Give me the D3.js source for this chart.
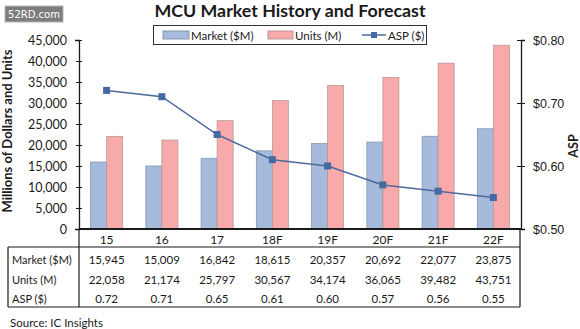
<!DOCTYPE html>
<html>
<head>
<meta charset="utf-8">
<script src="https://cdn.jsdelivr.net/npm/d3@7"></script>
<style>
  html, body { margin: 0; padding: 0; background: #fff; }
  svg { display: block; font-family: Lato, "Open Sans", sans-serif; }
</style>
</head>
<body>
<svg id="chart" width="580" height="329"></svg>
<script>
// MCU market history and forecast
const categories = ["15", "16", "17", "18F", "19F", "20F", "21F", "22F"];
const marketValues = [15945, 15009, 16842, 18615, 20357, 20692, 22077, 23875];
const unitValues = [22058, 21174, 25797, 30567, 34174, 36065, 39482, 43751];
const aspValues = [0.72, 0.71, 0.65, 0.61, 0.60, 0.57, 0.56, 0.55];
const leftTicks = [0, 5000, 10000, 15000, 20000, 25000, 30000, 35000, 40000, 45000];
const rightTicks = [0.50, 0.60, 0.70, 0.80];
const barSeries = ["Market ($M)", "Units (M)"];
const tableRows = ["Market ($M)", "Units (M)", "ASP ($)"];

const colors = {
  market: "#a6badb", marketStroke: "#8797b3",
  units: "#f8a9a9", unitsStroke: "#b89898",
  asp: "#4d6a9c", aspMarker: "#4569a3",
  axis: "#1a1a1a", text: "#1a1a1a"
};

const svg = d3.select("#chart");
const plot = { left: 79, right: 521, top: 40, bottom: 229 };

const x = d3.scaleBand().domain(categories)
  .range([plot.left, plot.right]).paddingInner(0.42).paddingOuter(0.21);
const xSub = d3.scaleBand().domain(barSeries).range([0, x.bandwidth()]);
const yLeft = d3.scaleLinear().domain([0, 45000]).range([plot.bottom, plot.top]);
const yRight = d3.scaleLinear().domain([0.5, 0.8]).range([plot.bottom, plot.top]);

// watermark badge
svg.append("rect").attr("x", 5).attr("y", 6).attr("width", 58).attr("height", 16)
  .attr("fill", "#7d7d7d").attr("stroke", "#b5b5b5");
svg.append("text").attr("x", 34).attr("y", 18).attr("text-anchor", "middle")
  .attr("font-family", "'DejaVu Sans', sans-serif").attr("font-size", 10)
  .attr("fill", "#fff").text("52RD.com");

// title
svg.append("text").attr("x", 290).attr("y", 17).attr("text-anchor", "middle")
  .attr("font-weight", "bold").attr("font-size", 17.8).attr("fill", colors.text)
  .text("MCU Market History and Forecast");

// legend
const lg = svg.append("g");
lg.append("rect").attr("x", 153.5).attr("y", 25.5).attr("width", 273).attr("height", 19)
  .attr("fill", "#fff").attr("stroke", "#333").attr("stroke-width", 1);
lg.append("rect").attr("x", 163).attr("y", 31).attr("width", 26).attr("height", 8)
  .attr("fill", colors.market).attr("stroke", colors.marketStroke);
lg.append("text").attr("x", 191).attr("y", 39.5).attr("font-size", 11.5).attr("fill", colors.text).text(barSeries[0]);
lg.append("rect").attr("x", 268).attr("y", 31).attr("width", 25).attr("height", 8)
  .attr("fill", colors.units).attr("stroke", colors.unitsStroke);
lg.append("text").attr("x", 295).attr("y", 39.5).attr("font-size", 11.5).attr("fill", colors.text).text(barSeries[1]);
lg.append("line").attr("x1", 362).attr("x2", 386).attr("y1", 35).attr("y2", 35)
  .attr("stroke", colors.asp).attr("stroke-width", 1.5);
lg.append("rect").attr("x", 371).attr("y", 32).attr("width", 6).attr("height", 6).attr("fill", colors.aspMarker);
lg.append("text").attr("x", 388).attr("y", 39.5).attr("font-size", 11.5).attr("fill", colors.text)
  .text("ASP ($)");

// bars
const groups = svg.append("g").selectAll("g").data(categories).join("g")
  .attr("transform", d => `translate(${x(d)},0)`);
groups.append("rect")
  .attr("x", xSub(barSeries[0])).attr("width", xSub.bandwidth())
  .attr("y", (d, i) => yLeft(marketValues[i]))
  .attr("height", (d, i) => plot.bottom - yLeft(marketValues[i]))
  .attr("fill", colors.market).attr("stroke", colors.marketStroke).attr("stroke-width", 0.8);
groups.append("rect")
  .attr("x", xSub(barSeries[1])).attr("width", xSub.bandwidth())
  .attr("y", (d, i) => yLeft(unitValues[i]))
  .attr("height", (d, i) => plot.bottom - yLeft(unitValues[i]))
  .attr("fill", colors.units).attr("stroke", colors.unitsStroke).attr("stroke-width", 0.8);

// ASP line
const cx = d => x(d) + x.bandwidth() / 2;
const line = d3.line().x((d, i) => cx(categories[i])).y(d => yRight(d));
svg.append("path").datum(aspValues).attr("d", line)
  .attr("fill", "none").attr("stroke", colors.asp).attr("stroke-width", 1.5);
svg.append("g").selectAll("rect").data(aspValues).join("rect")
  .attr("x", (d, i) => cx(categories[i]) - 3.5).attr("y", d => yRight(d) - 3.5)
  .attr("width", 7).attr("height", 7).attr("fill", colors.aspMarker);

// left axis
const leftAxis = svg.append("g").attr("transform", `translate(${plot.left},0)`)
  .call(d3.axisLeft(yLeft).tickValues(leftTicks).tickFormat(d3.format(",")).tickSize(4).tickPadding(8));
leftAxis.select(".domain").attr("stroke", colors.axis).attr("stroke-width", 1.3);
leftAxis.selectAll(".tick line").attr("x2", 3).attr("x1", -3).attr("stroke", colors.axis);
leftAxis.selectAll(".tick text").attr("font-size", 12.5).attr("fill", colors.text)
  .attr("font-family", "Lato, sans-serif");

// right axis
const rightAxis = svg.append("g").attr("transform", `translate(${plot.right},0)`)
  .call(d3.axisRight(yRight).tickValues(rightTicks).tickFormat(d3.format("$.2f")).tickSize(4).tickPadding(8));
rightAxis.select(".domain").attr("stroke", colors.axis).attr("stroke-width", 1.3);
rightAxis.selectAll(".tick line").attr("x1", -4).attr("x2", 4).attr("stroke", colors.axis);
rightAxis.selectAll(".tick text").attr("font-size", 12.5).attr("fill", colors.text);

// category axis line
svg.append("line").attr("x1", plot.left).attr("x2", plot.right)
  .attr("y1", plot.bottom).attr("y2", plot.bottom)
  .attr("stroke", colors.axis).attr("stroke-width", 2);

// axis titles
svg.append("text").attr("transform", "translate(12,131) rotate(-90)")
  .attr("text-anchor", "middle").attr("font-weight", "bold").attr("font-size", 13)
  .attr("fill", colors.text).text("Millions of Dollars and Units");
svg.append("text").attr("transform", "translate(578,146) rotate(-90)")
  .attr("text-anchor", "middle").attr("font-weight", "bold").attr("font-size", 12.5)
  .attr("fill", colors.text).text("ASP");

// data table
const table = svg.append("g");
const tbl = { left: 8, top: 247, bottom: 307, right: 520 };
table.append("line").attr("x1", tbl.left).attr("x2", tbl.right).attr("y1", tbl.top).attr("y2", tbl.top)
  .attr("stroke", colors.axis).attr("stroke-width", 1.2);
table.append("line").attr("x1", tbl.left).attr("x2", tbl.right).attr("y1", tbl.bottom).attr("y2", tbl.bottom)
  .attr("stroke", colors.axis).attr("stroke-width", 1.2);
table.append("line").attr("x1", tbl.left).attr("x2", tbl.left).attr("y1", tbl.top).attr("y2", tbl.bottom)
  .attr("stroke", colors.axis).attr("stroke-width", 1.2);
table.append("line").attr("x1", plot.left).attr("x2", plot.left).attr("y1", plot.bottom).attr("y2", tbl.bottom)
  .attr("stroke", colors.axis).attr("stroke-width", 1.2);
table.append("line").attr("x1", tbl.right).attr("x2", tbl.right).attr("y1", plot.bottom).attr("y2", tbl.bottom)
  .attr("stroke", colors.axis).attr("stroke-width", 1.2);

table.selectAll(".cat").data(categories).join("text").attr("class", "cat")
  .attr("x", d => cx(d)).attr("y", 244).attr("text-anchor", "middle")
  .attr("font-size", 12).attr("fill", colors.text).text(d => d);

const rowY = [264, 284, 303];
table.selectAll(".rowlabel").data(tableRows).join("text").attr("class", "rowlabel")
  .attr("x", 12).attr("y", (d, i) => rowY[i]).attr("font-size", 11).attr("fill", colors.text)
  .text(d => d);

const rowData = [
  marketValues.map(d3.format(",")),
  unitValues.map(d3.format(",")),
  aspValues.map(d3.format(".2f"))
];
rowData.forEach((vals, r) => {
  table.selectAll(".row" + r).data(vals).join("text").attr("class", "row" + r)
    .attr("x", (d, i) => cx(categories[i])).attr("y", rowY[r]).attr("text-anchor", "middle")
    .attr("font-size", 11.5).attr("fill", colors.text).text(d => d);
});

// source note
svg.append("text").attr("x", 10).attr("y", 327).attr("font-size", 11.5)
  .attr("fill", colors.text).text("Source:  IC Insights");
</script>
</body>
</html>
